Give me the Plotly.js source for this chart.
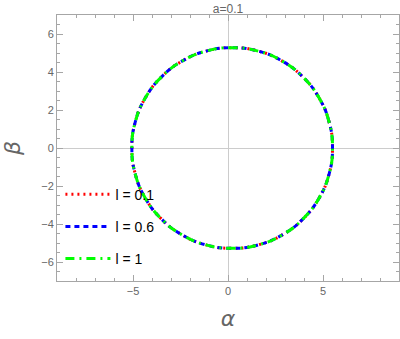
<!DOCTYPE html>
<html>
<head>
<meta charset="utf-8">
<script src="https://cdn.plot.ly/plotly-3.0.1.min.js"></script>
<style>
  html, body { margin: 0; padding: 0; background: #fff; }
  #chart { width: 400px; height: 339px; }
</style>
</head>
<body>
<div id="chart"></div>
<script>
// shadow boundary (a = 0.1), counter-clockwise from the right edge
const alpha = [5.50, 5.32, 4.79, 3.95, 2.86, 1.59, 0.22, -1.15, -2.42, -3.51, -4.35, -4.88, -5.06,
               -4.88, -4.35, -3.51, -2.42, -1.15, 0.22, 1.59, 2.86, 3.95, 4.79, 5.32, 5.50];
const beta  = [0.00, 1.37, 2.64, 3.73, 4.57, 5.10, 5.28, 5.10, 4.57, 3.73, 2.64, 1.37, 0.00,
               -1.37, -2.64, -3.73, -4.57, -5.10, -5.28, -5.10, -4.57, -3.73, -2.64, -1.37, 0.00];

const labels = ['l = 0.1', 'l = 0.6', 'l = 1'];
const colors = ['#ff0000', '#0000ff', '#00ff00'];
const dashes = ['2px,4px', '5px,4px', '9px,5px,2px,5px'];

const traces = labels.map((name, i) => ({
    x: alpha, y: beta,
    mode: 'lines', name: name,
    legendgroup: 'g' + i,
    line: { color: colors[i], width: 3, dash: dashes[i], shape: 'spline', smoothing: 1.3 },
    hoverinfo: 'skip',
}));

const AXIS = {
    showgrid: false,
    zeroline: true, zerolinecolor: '#cccccc', zerolinewidth: 1,
    showline: true, linecolor: '#a6a6a6', linewidth: 1, mirror: 'ticks',
    ticks: 'inside', ticklen: 6, tickcolor: '#a6a6a6',
    tickfont: { family: 'Liberation Sans, Arial, sans-serif', size: 11, color: '#666666' },
};

Plotly.newPlot('chart', traces, {
    width: 400, height: 339,
    paper_bgcolor: '#ffffff', plot_bgcolor: '#ffffff',
    margin: { l: 57, r: 1, t: 15, b: 58 },
    title: {
        text: 'a=0.1', x: 0.57, xanchor: 'center', y: 0.975, yanchor: 'middle',
        font: { family: 'Liberation Sans, Arial, sans-serif', size: 12, color: '#666666' },
    },
    xaxis: {
        ...AXIS, range: [-9, 9], tickvals: [-5, 0, 5], ticktext: ['\u22125', '0', '5'],
        minor: { dtick: 1, ticks: 'inside', ticklen: 3, tickcolor: '#a6a6a6', showgrid: false },
        title: { text: '\u03b1', standoff: 14,
            font: { family: 'DejaVu Sans, sans-serif', size: 22, color: '#666666', style: 'italic' } },
    },
    yaxis: {
        ...AXIS, range: [-7, 7], tickvals: [-6, -4, -2, 0, 2, 4, 6],
        ticktext: ['\u22126', '\u22124', '\u22122', '0', '2', '4', '6'],
        minor: { dtick: 0.5, ticks: 'inside', ticklen: 3, tickcolor: '#a6a6a6', showgrid: false },
        title: { text: '\u03b2', standoff: 14,
            font: { family: 'DejaVu Sans, sans-serif', size: 22, color: '#666666', style: 'italic' } },
    },
    showlegend: true,
    legend: {
        x: 0.01, xanchor: 'left', y: 0.385, yanchor: 'top',
        bgcolor: 'rgba(0,0,0,0)', borderwidth: 0,
        traceorder: 'grouped', tracegroupgap: 11, itemwidth: 45,
        font: { family: 'Liberation Sans, Arial, sans-serif', size: 14, color: '#000000' },
    },
}, { displayModeBar: false, staticPlot: true });
</script>
</body>
</html>
